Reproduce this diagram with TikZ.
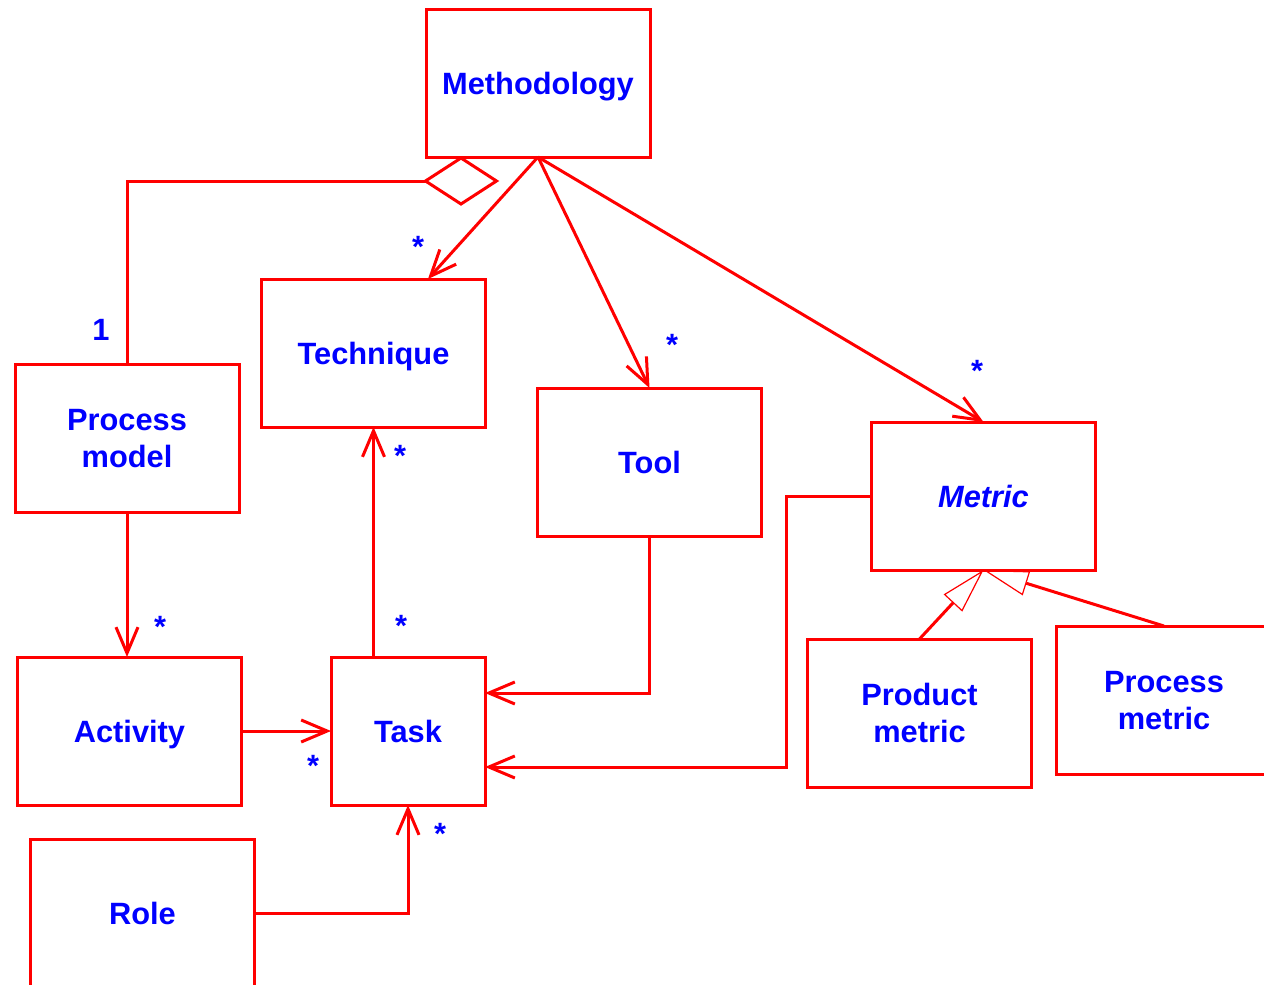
\documentclass[tikz,border=0pt]{standalone}
\usepackage{fontspec}
\setmainfont{Liberation Sans}
\usepackage{xcolor}
\usepackage{tikz}
\usetikzlibrary{arrows.meta}
\usetikzlibrary{shapes.geometric}
\definecolor{umlred}{RGB}{255,0,0}
\definecolor{umlblue}{RGB}{0,0,255}
\tikzstyle{box} = [draw=umlred, line width=1.5pt, minimum width=112pt, minimum height=74pt, inner sep=0pt, outer sep=0pt, text depth=0pt, align=center, text=umlblue, font=\fontsize{15.4}{18.5}\selectfont\bfseries]
\tikzstyle{assoc} = [umlred, line width=1.5pt, -{Straight Barb[length=13pt,width=11pt]}]
\tikzstyle{gen} = [umlred, line width=1.5pt, -{Triangle[open,length=22.5pt,width=12.5pt,line width=0.6pt]}]
\tikzstyle{mult} = [text=umlblue, inner sep=0pt, font=\fontsize{15.4}{18.5}\selectfont\bfseries]

\begin{document}
\begin{tikzpicture}[x=0.5pt, y=-0.5pt]
    \useasboundingbox (0,0) rectangle (1264,985);
    \clip (0,0) rectangle (1264,985);

    % classes
    \node[box] (meth) at (538,83) {Methodology};
    \node[box] (tech) at (373.5,353) {Technique};
    \node[box] (pm) at (127,438.5) {Process\\ model};
    \node[box] (tool) at (649.5,462) {Tool};
    \node[box] (metric) at (983.5,496) {\itshape Metric};
    \node[box] (act) at (129.5,731) {Activity};
    \node[box, minimum width=77pt] (task) at (408,731) {Task};
    \node[box] (role) at (142.5,913) {Role};
    \node[box] (prodm) at (919.5,713) {Product\\ metric};
    \node[box, minimum width=108pt] (procm) at (1164,700) {Process\\ metric};

    % aggregation
    \node[diamond, draw=umlred, line width=1.5pt, minimum width=35.5pt, minimum height=23pt, inner sep=0pt, outer sep=0pt] (agg) at (461,181) {};
    \draw[umlred, line width=1.5pt] (agg.west) -| (pm.north);

    % associations
    \draw[assoc] (meth.south) -- (tech.north -| 428,0);
    \draw[assoc] (meth.south) -- (tool.north);
    \draw[assoc] (meth.south) -- (metric.north);
    \draw[assoc] (pm.south) -- (pm.south |- act.north);
    \draw[assoc] (act.east) -- (task.west);
    \draw[assoc] (task.north -| tech.south) -- (tech.south);
    \draw[assoc] (tool.south) |- (task.east |- 0,693);
    \draw[assoc] (metric.west) -- ++(-85,0) |- (task.east |- 0,767);
    \draw[assoc] (role.east) -| (task.south);

    % generalizations
    \draw[gen] (prodm.north) -- (metric.south);
    \draw[gen] (procm.north) -- (metric.south);

    % multiplicities
    \node[mult] (one) at (101,330) {1};
    \node[mult] (stech) at (418,246.5) {*};
    \node[mult] (stool) at (672,344.5) {*};
    \node[mult] (smetric) at (977,370.5) {*};
    \node[mult] (stechb) at (400,455.5) {*};
    \node[mult] (stasktop) at (401,625.5) {*};
    \node[mult] (sact) at (160,626.5) {*};
    \node[mult] (stasklft) at (313,765.5) {*};
    \node[mult] (staskbot) at (440,833.5) {*};
\end{tikzpicture}
\end{document}
